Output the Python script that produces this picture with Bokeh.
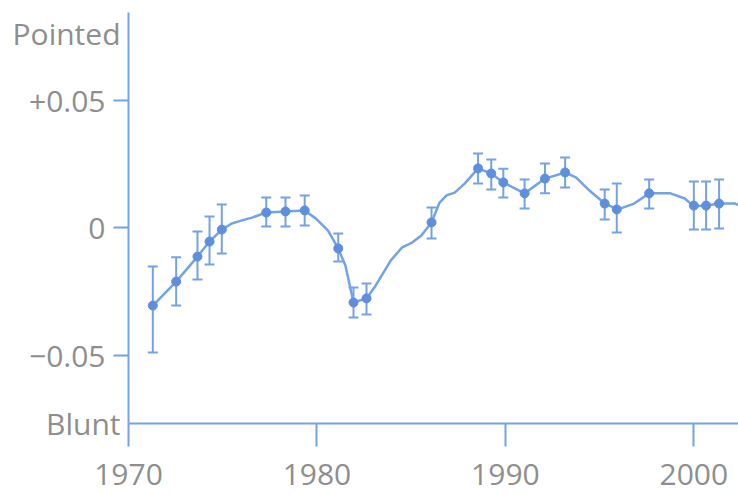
from bokeh.plotting import figure
from bokeh.models import ColumnDataSource, Whisker, TeeHead, FixedTicker, Range1d
from bokeh.embed import file_html
from bokeh.resources import INLINE

# ---- data ----
years = [1971.29, 1972.53, 1973.66, 1974.30, 1974.95, 1977.31, 1978.33, 1979.35,
         1981.13, 1981.94, 1982.63, 1986.08, 1988.55, 1989.25, 1989.89, 1991.02,
         1992.10, 1993.17, 1995.27, 1995.91, 1997.63, 2000.00, 2000.65, 2001.34]
values = [-0.0305, -0.0211, -0.0113, -0.0054, -0.0007, 0.0060, 0.0064, 0.0068,
          -0.0081, -0.0293, -0.0277, 0.0021, 0.0233, 0.0213, 0.0178, 0.0135,
          0.0193, 0.0217, 0.0095, 0.0072, 0.0135, 0.0087, 0.0087, 0.0095]
upper = [-0.0152, -0.0116, -0.0015, 0.0044, 0.0091, 0.0119, 0.0119, 0.0127,
         -0.0022, -0.0234, -0.0218, 0.0080, 0.0291, 0.0268, 0.0232, 0.0189,
         0.0252, 0.0276, 0.0150, 0.0174, 0.0189, 0.0182, 0.0182, 0.0189]
lower = [-0.0489, -0.0305, -0.0203, -0.0144, -0.0101, 0.0005, 0.0005, 0.0009,
         -0.0132, -0.0352, -0.0340, -0.0042, 0.0174, 0.0150, 0.0119, 0.0076,
         0.0135, 0.0158, 0.0033, -0.0018, 0.0076, -0.0007, -0.0007, -0.0003]

curve_years = [1971.29, 1972.53, 1973.66, 1974.30, 1974.95, 1975.48, 1976.02, 1976.56,
               1977.31, 1978.33, 1979.35, 1979.95, 1980.59, 1981.13, 1981.51, 1981.94,
               1982.63, 1983.12, 1983.92, 1984.52, 1985.05, 1985.54, 1986.08, 1986.51,
               1986.88, 1987.31, 1987.85, 1988.55, 1989.25, 1989.89, 1991.02, 1992.10,
               1993.17, 1993.76, 1994.46, 1995.27, 1995.97, 1996.83, 1997.63, 1998.76,
               1999.52, 2000.00, 2000.65, 2001.40, 2002.20, 2002.74]
curve_values = [-0.0305, -0.0211, -0.0113, -0.0054, -0.0007, 0.0017, 0.0029, 0.0040,
                0.0060, 0.0064, 0.0068, 0.0036, -0.0011, -0.0081, -0.0148, -0.0293,
                -0.0277, -0.0226, -0.0128, -0.0077, -0.0058, -0.0030, 0.0021, 0.0099,
                0.0127, 0.0138, 0.0174, 0.0233, 0.0213, 0.0178, 0.0135, 0.0193,
                0.0217, 0.0197, 0.0146, 0.0095, 0.0072, 0.0095, 0.0135, 0.0135,
                0.0115, 0.0084, 0.0087, 0.0095, 0.0095, 0.0076]

x_ticks = [1970, 1980, 1990, 2000]
y_ticks = [-0.05, 0, 0.05]
pad = "\u2002"
y_label_ticks = [-0.0767, -0.05, 0, 0.05, 0.0762]
y_tick_labels = {-0.0767: "Blunt", -0.05: "\u22120.05" + pad, 0: "0" + pad,
                 0.05: "+0.05" + pad, 0.0762: "Pointed"}

BLUE = "#74a2e8"
DOT = "#5e8fdc"
GREY = "#8e8e8e"
FONT = "Open Sans"
FS = "30px"

p = figure(width=738, height=494, output_backend="svg", toolbar_location=None,
           x_range=Range1d(1970, 2002.37), y_range=Range1d(-0.07675, 0.08443),
           min_border_left=128, min_border_right=0, min_border_top=12, min_border_bottom=71)
p.outline_line_color = None
p.grid.visible = False
p.background_fill_color = "white"

src = ColumnDataSource(dict(x=years, y=values, upper=upper, lower=lower))
csrc = ColumnDataSource(dict(x=curve_years, y=curve_values))

p.line("x", "y", source=csrc, line_color=BLUE, line_width=2.5)
w = Whisker(source=src, base="x", upper="upper", lower="lower",
            line_color=BLUE, line_width=2,
            upper_head=TeeHead(size=10, line_color=BLUE, line_width=2),
            lower_head=TeeHead(size=10, line_color=BLUE, line_width=2))
p.add_layout(w)
p.scatter("x", "y", source=src, size=9, fill_color=DOT, line_color=DOT)

# axes
xa = p.xaxis[0]
xa.ticker = FixedTicker(ticks=x_ticks)
xa.axis_line_color = BLUE
xa.axis_line_width = 2
xa.major_tick_line_color = BLUE
xa.major_tick_line_width = 2
xa.major_tick_out = 23
xa.major_tick_in = 0
xa.minor_tick_line_color = None
xa.major_label_text_font = FONT
xa.major_label_text_font_size = FS
xa.major_label_text_color = GREY
xa.major_label_standoff = 17

ya = p.yaxis[0]
ya.ticker = FixedTicker(ticks=y_label_ticks, minor_ticks=y_ticks)
ya.major_label_overrides = y_tick_labels
ya.axis_line_color = BLUE
ya.axis_line_width = 2
ya.major_tick_line_color = None
ya.major_tick_out = 0
ya.major_tick_in = 0
ya.minor_tick_line_color = BLUE
ya.minor_tick_line_width = 2
ya.minor_tick_out = 15
ya.minor_tick_in = 0
ya.major_label_text_font = FONT
ya.major_label_text_font_size = FS
ya.major_label_text_color = GREY
ya.major_label_standoff = -7

open("out.html", "w").write(file_html(p, INLINE))
